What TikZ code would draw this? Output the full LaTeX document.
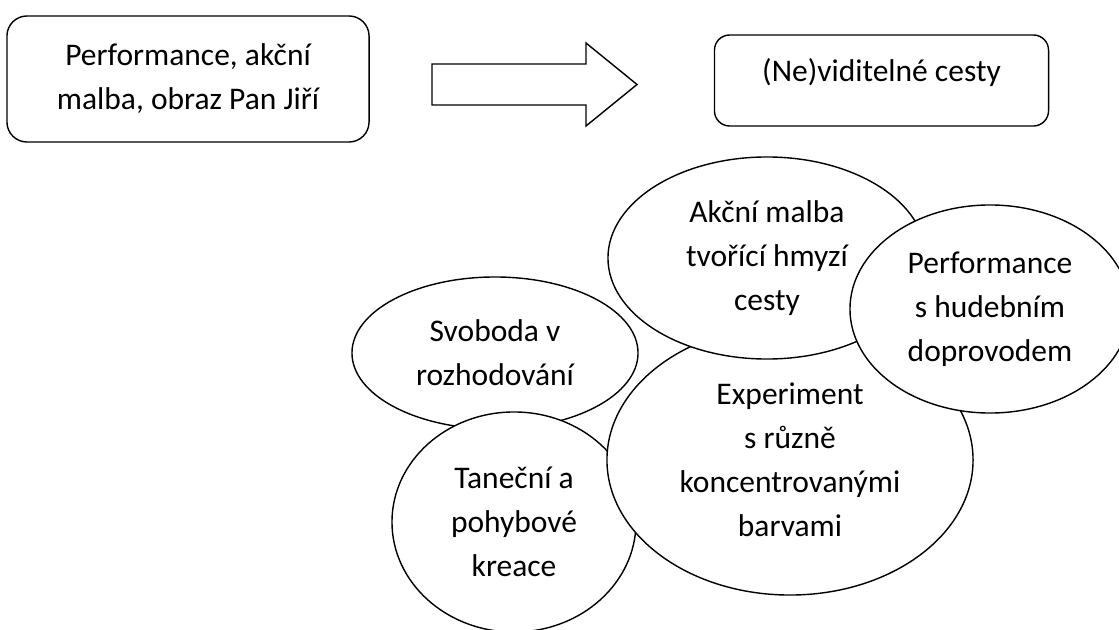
\documentclass[tikz,border=0pt]{standalone}
\usepackage{fontspec}
\setmainfont{Carlito}
\usetikzlibrary{shapes.geometric}
\tikzset{
  topbox/.style={draw=black,line width=1pt,rounded corners=5mm,align=center,inner sep=0pt,fill=white,
    font=\fontsize{22.4pt}{31.3pt}\selectfont},
  bubble/.style={ellipse,draw=black,line width=1pt,fill=white,align=center,inner sep=0pt,
    font=\fontsize{22.4pt}{31.3pt}\selectfont},
  blockarrow/.style={draw=black,line width=1pt,line join=miter,fill=white}
}

\begin{document}
\begin{tikzpicture}[x=0.025cm,y=-0.025cm]
  \useasboundingbox (0,0) rectangle (1119,630);
  % top row
  \node[topbox,minimum width=9.05cm,minimum height=3.15cm] (source) at (188,79) {Performance, akční\\malba, obraz Pan Jiří};
  \draw[blockarrow] (432,64) -- (586,64) -- (586,43) -- (637,84.5) -- (586,126) -- (586,105) -- (432,105) -- cycle;
  \node[topbox,rounded corners=3.8mm,minimum width=8.35cm,minimum height=2.275cm,
    text height=17pt,text depth=15pt] (paths) at (881.5,80.5) {(Ne)viditelné cesty};
  % bubbles
  \node[bubble,minimum width=7.15cm,minimum height=3.8cm] (freedom) at (495,353) {Svoboda v\\rozhodování};
  \node[bubble,minimum width=6.1cm,minimum height=5.5cm] (dance) at (514,522) {Taneční a\\pohybové\\kreace};
  \node[bubble,minimum width=9.15cm,minimum height=6.75cm] (experiment) at (790,460) {Experiment\\s různě\\koncentrovanými\\barvami};
  \node[bubble,minimum width=7.95cm,minimum height=5.05cm] (action) at (767,258) {Akční malba\\tvořící hmyzí\\cesty};
  \node[bubble,minimum width=7.0cm,minimum height=5.2cm] (music) at (990,309) {Performance\\s hudebním\\doprovodem};
\end{tikzpicture}
\end{document}
